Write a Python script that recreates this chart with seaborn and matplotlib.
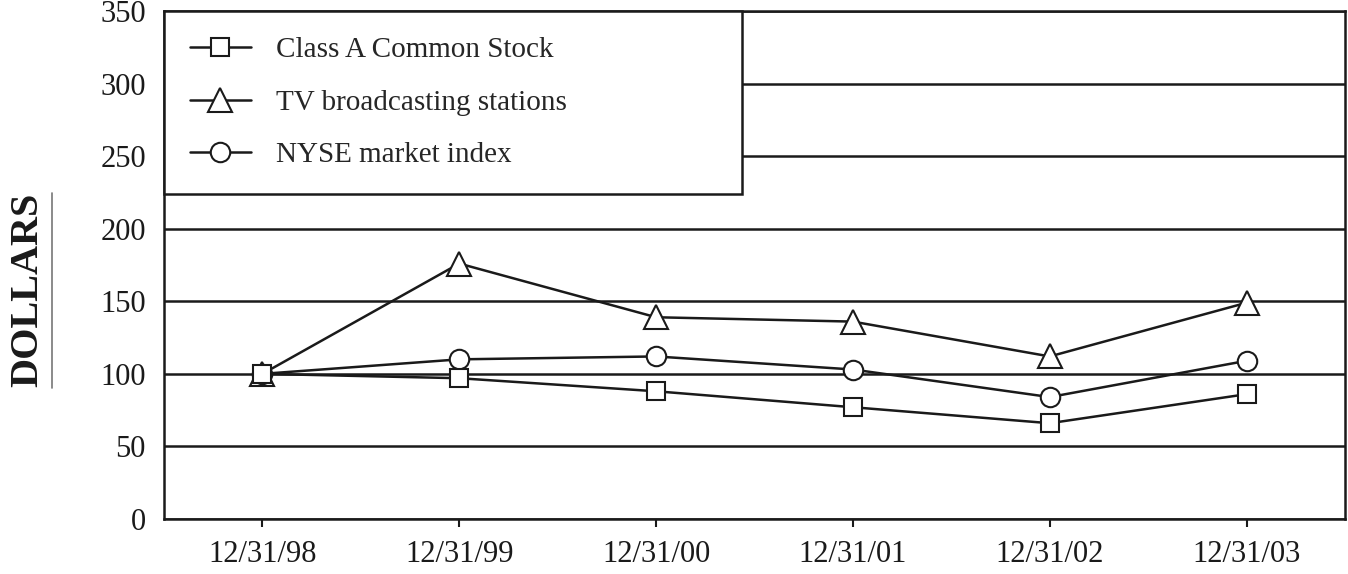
import matplotlib
matplotlib.use("Agg")
import matplotlib.pyplot as plt
from matplotlib.lines import Line2D
import seaborn as sns
import pandas as pd

# ---- data ----
dates = ["12/31/98", "12/31/99", "12/31/00", "12/31/01", "12/31/02", "12/31/03"]
class_a = [100, 97, 88, 77, 66, 86]
tv_stations = [100, 176, 139, 136, 112, 149]
nyse_index = [100, 110, 112, 103, 84, 109]
series_names = ["Class A Common Stock", "TV broadcasting stations", "NYSE market index"]
y_ticks = [0, 50, 100, 150, 200, 250, 300, 350]
y_label = "DOLLARS"

sns.set_theme(style="white")
plt.rcParams['font.family'] = ['Liberation Serif', 'DejaVu Serif']

ink = "#1a1a1a"
fig = plt.figure(figsize=(13.48, 5.74), dpi=100)
ax = fig.add_axes([164 / 1348, 55 / 574, 1181 / 1348, 508 / 574])

pos = list(range(len(dates)))
frames = []
for name, vals in zip(series_names, [class_a, tv_stations, nyse_index]):
    frames.append(pd.DataFrame({"pos": pos, "date": dates, "value": vals, "series": name}))
df = pd.concat(frames, ignore_index=True)

styles = {
    "Class A Common Stock": dict(marker="s", markersize=13),
    "TV broadcasting stations": dict(marker="^", markersize=17),
    "NYSE market index": dict(marker="o", markersize=14),
}
draw_order = ["TV broadcasting stations", "NYSE market index", "Class A Common Stock"]
for name in draw_order:
    sub = df[df["series"] == name]
    sns.lineplot(data=sub, x="pos", y="value", ax=ax, color=ink, linewidth=1.8,
                 markerfacecolor="white", markeredgecolor=ink, markeredgewidth=1.5,
                 label=name, zorder=4, **styles[name])

ax.set_xlim(-0.5, 5.5)
ax.set_ylim(0, 350)
ax.set_xticks(pos)
ax.set_xticklabels(dates)
ax.set_yticks(y_ticks)
ax.set_xlabel("")
ax.set_ylabel("")
ax.yaxis.grid(True, color=ink, linewidth=1.8)
ax.xaxis.grid(False)
ax.set_axisbelow(True)
for sp in ax.spines.values():
    sp.set_visible(True)
    sp.set_color(ink)
    sp.set_linewidth(1.8)
ax.tick_params(axis="y", length=0, pad=13, labelsize=22, labelcolor=ink)
ax.tick_params(axis="x", length=6, width=1.5, direction="out", color=ink,
               pad=9, labelsize=22, labelcolor=ink, bottom=True)

handles, labels = ax.get_legend_handles_labels()
order = [labels.index(n) for n in series_names]
leg = ax.legend([handles[i] for i in order], [labels[i] for i in order],
                loc="upper left", bbox_to_anchor=(0, 0, 578 / 1181, 1),
                mode="expand", borderaxespad=0, frameon=True, fancybox=False,
                framealpha=1, facecolor="white", edgecolor=ink,
                fontsize=21, handlelength=2.1, handletextpad=0.85,
                borderpad=0.88, labelspacing=0.9)
leg.get_frame().set_linewidth(1.8)
leg.set_zorder(6)

fig.text(28 / 1348, (574 - 290) / 574, y_label, rotation=90, fontsize=29,
         fontweight="bold", color=ink, ha="center", va="center")
fig.add_artist(Line2D([52 / 1348, 52 / 1348], [(574 - 388) / 574, (574 - 193) / 574],
                      transform=fig.transFigure, color="#777777", linewidth=1.2))

fig.savefig("out.png", dpi=100)
